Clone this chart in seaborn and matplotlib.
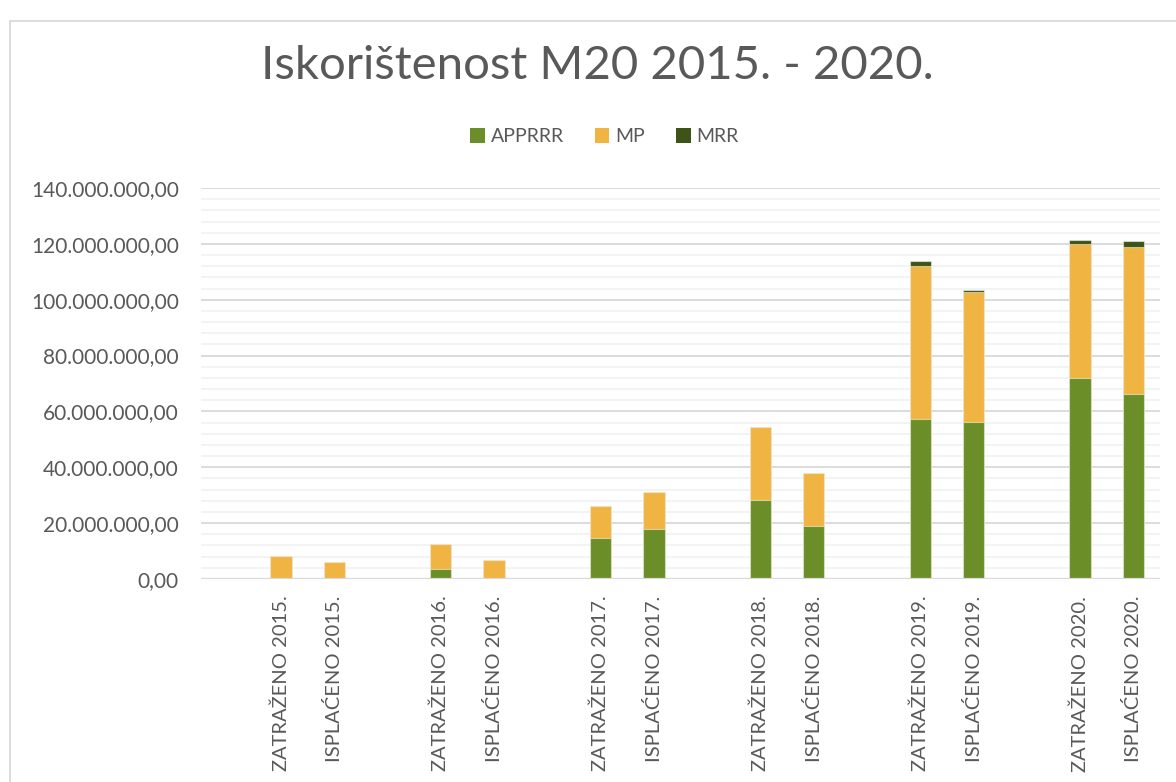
import matplotlib
matplotlib.use("Agg")
from matplotlib import pyplot as plt
from matplotlib.patches import Patch, Rectangle
from matplotlib.ticker import FuncFormatter, MultipleLocator
import seaborn as sns

# values in millions
years = ["2015.", "2016.", "2017.", "2018.", "2019.", "2020."]
apprrr_zatrazeno = [0.0, 3.7, 14.6, 28.4, 57.3, 72.1]
apprrr_isplaceno = [0.0, 0.0, 18.0, 19.0, 56.2, 66.1]
mp_zatrazeno = [8.3, 8.8, 11.5, 26.0, 54.7, 47.9]
mp_isplaceno = [6.1, 6.9, 13.1, 19.1, 46.4, 52.7]
mrr_zatrazeno = [0.0, 0.0, 0.0, 0.0, 1.8, 1.4]
mrr_isplaceno = [0.0, 0.0, 0.0, 0.0, 1.0, 2.1]

series_names = ["APPRRR", "MP", "MRR"]
colors = {"APPRRR": "#6B8E29", "MP": "#F0B442", "MRR": "#3E5417"}
text_color = "#595959"

# categories, with an empty slot before each year pair
labels, apprrr, mp, mrr, order = [], [], [], [], []
for i, year in enumerate(years):
    order.append(f"_gap{i}")
    for kind, a, m, r in (("ZATRAŽENO", apprrr_zatrazeno, mp_zatrazeno, mrr_zatrazeno),
                          ("ISPLAĆENO", apprrr_isplaceno, mp_isplaceno, mrr_isplaceno)):
        name = f"{kind} {year}"
        labels.append(name)
        order.append(name)
        apprrr.append(a[i] * 1e6)
        mp.append(m[i] * 1e6)
        mrr.append(r[i] * 1e6)

sns.set_theme(style="white")
plt.rcParams["font.family"] = ["Lato", "DejaVu Sans"]

fig = plt.figure(figsize=(11.76, 7.82), dpi=100)
ax = fig.add_axes([201 / 1176, 1 - 579 / 782, 959 / 1176, 391 / 782])

totals_top = [a + m + r for a, m, r in zip(apprrr, mp, mrr)]
totals_mid = [a + m for a, m in zip(apprrr, mp)]
for vals, name in ((totals_top, "MRR"), (totals_mid, "MP"), (apprrr, "APPRRR")):
    sns.barplot(x=labels, y=vals, order=order, color=colors[name], width=0.4,
                saturation=1, edgecolor=(1, 1, 1, 0.5), linewidth=0.8, ax=ax)

ax.set_xlim(-0.5, len(order) - 0.5)
ax.set_ylim(0, 140e6)
ax.yaxis.set_major_locator(MultipleLocator(20e6))
ax.yaxis.set_minor_locator(MultipleLocator(4e6))


def hr_format(v, _pos):
    return f"{v:,.2f}".replace(",", "X").replace(".", ",").replace("X", ".")


ax.yaxis.set_major_formatter(FuncFormatter(hr_format))
ax.grid(axis="y", which="minor", color="#F2F2F2", linewidth=1.3, zorder=0)
ax.grid(axis="y", which="major", color="#D9D9D9", linewidth=1.3, zorder=0)
ax.set_axisbelow(True)
for spine in ax.spines.values():
    spine.set_visible(False)
ax.axhline(0, color="#D9D9D9", linewidth=1.6, zorder=1)

ax.set_xticks(range(len(order)))
ax.set_xticklabels(["" if o.startswith("_gap") else o for o in order],
                   rotation=90, fontsize=14.5, color=text_color)
ax.tick_params(axis="x", length=0, pad=12)
ax.tick_params(axis="y", which="both", length=0, pad=16, labelsize=15,
               labelcolor=text_color)
ax.set_xlabel("")
ax.set_ylabel("")

fig.text(0.508, 0.915, "Iskorištenost M20 2015. - 2020.", ha="center", va="center",
         fontsize=34, color=text_color)

handles = [Patch(facecolor=colors[n], edgecolor="none", label=n) for n in series_names]
fig.legend(handles=handles, loc="center", bbox_to_anchor=(0.514, 0.825), ncol=3,
           frameon=False, fontsize=14, handlelength=0.75, handleheight=0.75,
           handletextpad=0.3, columnspacing=1.6, labelcolor=text_color)

fig.patches.append(Rectangle((10 / 1176, -0.1), 2, (782 - 21) / 782 + 0.1,
                             transform=fig.transFigure, fill=False,
                             edgecolor="#D9D9D9", linewidth=1.3))

fig.savefig("out.png", dpi=100)
